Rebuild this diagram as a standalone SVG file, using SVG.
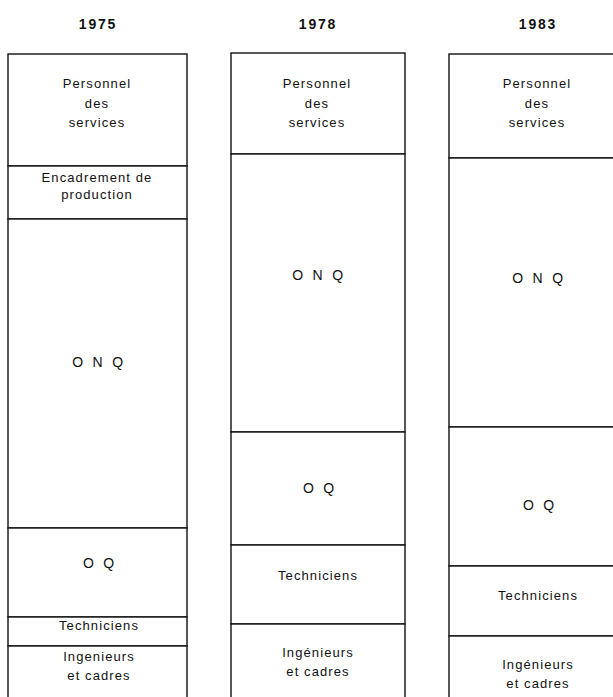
<svg xmlns="http://www.w3.org/2000/svg" width="613" height="697" viewBox="0 0 613 697">
<style>
.box{fill:#fff;stroke:#111;stroke-width:1.4}
.yr{font-family:"Liberation Sans",Arial,sans-serif;font-size:14px;font-weight:bold;fill:#111;text-anchor:middle;letter-spacing:1.8px}
.lb{font-family:"Liberation Sans",Arial,sans-serif;font-size:13px;fill:#111;text-anchor:middle;letter-spacing:1.1px}
.big{font-family:"Liberation Sans",Arial,sans-serif;font-size:14px;fill:#111;text-anchor:middle;letter-spacing:2.8px}
</style>
<rect width="613" height="697" fill="#fff"/>
<g id="years">
<text class="yr" x="98" y="29">1975</text>
<text class="yr" x="318" y="29">1978</text>
<text class="yr" x="538" y="29">1983</text>
</g>
<g id="col1">
<g id="c1-personnel"><rect class="box" x="8" y="54" width="179" height="112"/>
<text class="lb" x="97" y="88">Personnel</text><text class="lb" x="97" y="108">des</text><text class="lb" x="97" y="127">services</text></g>
<g id="c1-encadrement"><rect class="box" x="8" y="166" width="179" height="53"/>
<text class="lb" x="97" y="182">Encadrement de</text><text class="lb" x="97" y="199">production</text></g>
<g id="c1-onq"><rect class="box" x="8" y="219" width="179" height="309"/>
<text class="big" x="99" y="367">O N Q</text></g>
<g id="c1-oq"><rect class="box" x="8" y="528" width="179" height="89"/>
<text class="big" x="100" y="568">O Q</text></g>
<g id="c1-tech"><rect class="box" x="8" y="617" width="179" height="29"/>
<text class="lb" x="99" y="630">Techniciens</text></g>
<g id="c1-ing"><rect class="box" x="8" y="646" width="179" height="60"/>
<text class="lb" x="99" y="661">Ingenieurs</text><text class="lb" x="99" y="680">et cadres</text></g>
</g>
<g id="col2">
<g id="c2-personnel"><rect class="box" x="231" y="53" width="174" height="101"/>
<text class="lb" x="317" y="88">Personnel</text><text class="lb" x="317" y="108">des</text><text class="lb" x="317" y="127">services</text></g>
<g id="c2-onq"><rect class="box" x="231" y="154" width="174" height="278"/>
<text class="big" x="319" y="280">O N Q</text></g>
<g id="c2-oq"><rect class="box" x="231" y="432" width="174" height="113"/>
<text class="big" x="320" y="493">O Q</text></g>
<g id="c2-tech"><rect class="box" x="231" y="545" width="174" height="79"/>
<text class="lb" x="318" y="580">Techniciens</text></g>
<g id="c2-ing"><rect class="box" x="231" y="624" width="174" height="82"/>
<text class="lb" x="318" y="657">Ingénieurs</text><text class="lb" x="318" y="676">et cadres</text></g>
</g>
<g id="col3">
<g id="c3-personnel"><rect class="box" x="449" y="54" width="175" height="104"/>
<text class="lb" x="537" y="88">Personnel</text><text class="lb" x="537" y="108">des</text><text class="lb" x="537" y="127">services</text></g>
<g id="c3-onq"><rect class="box" x="449" y="158" width="175" height="269"/>
<text class="big" x="539" y="283">O N Q</text></g>
<g id="c3-oq"><rect class="box" x="449" y="427" width="175" height="139"/>
<text class="big" x="540" y="510">O Q</text></g>
<g id="c3-tech"><rect class="box" x="449" y="566" width="175" height="70"/>
<text class="lb" x="538" y="600">Techniciens</text></g>
<g id="c3-ing"><rect class="box" x="449" y="636" width="175" height="70"/>
<text class="lb" x="538" y="669">Ingénieurs</text><text class="lb" x="538" y="688">et cadres</text></g>
</g>
<g id="connectors"></g>
</svg>
